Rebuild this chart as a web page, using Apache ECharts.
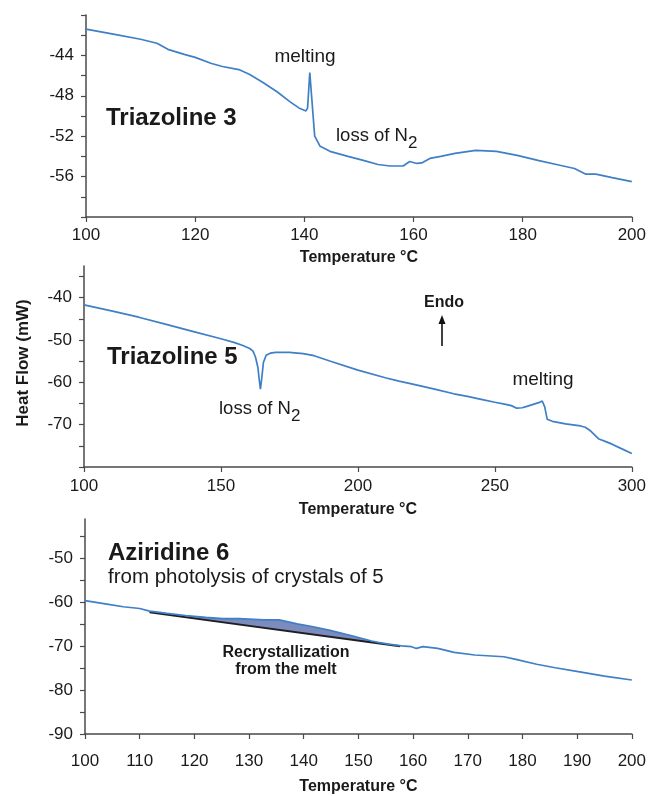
<!DOCTYPE html>
<html>
<head>
<meta charset="utf-8">
<script src="https://cdn.jsdelivr.net/npm/echarts@6/dist/echarts.min.js"></script>
<style>html,body{margin:0;padding:0;background:#fff}#c{width:649px;height:796px}</style>
</head>
<body>
<div id="c"></div>
<script>
// ---- Panel 1: Triazoline 3 ----
const t3X = [100,105,110,113,115,118,120,123,125,128,130,132.5,135,137.4,139,140.3,140.6,141.0,141.4,141.9,142.9,144.7,148,150.8,153.5,155.7,158.1,159.3,160.6,161.5,163,165,167.6,171.4,175.2,179,182.8,186.6,189.5,191.5,193.4,196.4,200];
const t3Y = [-41.4,-41.9,-42.4,-42.8,-43.4,-43.9,-44.2,-44.8,-45.1,-45.4,-45.9,-46.7,-47.6,-48.6,-49.2,-49.5,-49.2,-45.7,-48.5,-52.0,-53.0,-53.5,-54.0,-54.4,-54.8,-54.95,-54.95,-54.5,-54.7,-54.65,-54.2,-54.0,-53.7,-53.4,-53.5,-53.9,-54.4,-54.85,-55.2,-55.75,-55.75,-56.1,-56.5];
const t3XTicks = [100,120,140,160,180,200];
const t3YTicks = [-60,-58,-56,-54,-52,-50,-48,-46,-44,-42,-40];
const t3YLabels = [-56,-52,-48,-44];

// ---- Panel 2: Triazoline 5 ----
const t5X = [100,110,120,130,140,150,155,158,160.5,161.7,162.6,163.5,164.0,164.4,164.9,165.5,166.5,168,170,175,180,184,190,200,210,215,220,228,235,240,245,250,254,256,258,260,262,264,266,267.3,268.2,269.1,271,275.8,281.3,283,285,288,290.5,292.8,296,300];
const t5Y = [-41.7,-43.1,-44.6,-46.3,-48.0,-49.7,-50.6,-51.3,-52.0,-52.6,-54.0,-56.5,-59.5,-61.6,-59.0,-55.3,-53.6,-53.1,-52.9,-52.9,-53.2,-53.7,-55.0,-57.1,-58.9,-59.7,-60.4,-61.6,-62.7,-63.3,-64.0,-64.7,-65.2,-65.5,-66.1,-66.0,-65.6,-65.2,-64.8,-64.4,-65.8,-68.7,-69.2,-69.8,-70.3,-70.6,-71.5,-73.4,-74.0,-74.6,-75.6,-76.8];
const t5XTicks = [100,150,200,250,300];
const t5YTicks = [-80,-75,-70,-65,-60,-55,-50,-45,-40,-35];
const t5YLabels = [-70,-60,-50,-40];

// ---- Panel 3: Aziridine 6 ----
const a6X = [100,104,107,110,111.8,115,118.4,122.1,125.2,128.2,132.7,135.5,138.8,141.5,144.8,148.8,152.4,153.6,155.5,157.9,159.7,160.6,161.8,164.5,167.5,171.3,176.6,178.8,182.6,186,190.2,195,200];
const a6Y = [-59.6,-60.4,-61.0,-61.4,-62.0,-62.5,-63.0,-63.4,-63.7,-63.7,-64.0,-64.0,-64.9,-65.5,-66.4,-67.6,-68.8,-69.1,-69.5,-69.9,-70.1,-70.5,-70.1,-70.5,-71.4,-72.0,-72.4,-73.0,-74.1,-74.9,-75.8,-76.8,-77.7];
const baseX = [111.8,157.6];
const baseY = [-62.3,-70.0];
const a6XTicks = [100,110,120,130,140,150,160,170,180,190,200];
const a6YTicks = [-90,-85,-80,-75,-70,-65,-60,-55,-50,-45];
const a6YLabels = [-90,-80,-70,-60,-50];

const zip = (xs, ys) => xs.map((x, i) => [x, ys[i]]);
const LINE = '#3f7fc6';
const AX = '#4a4a4a';
const TXT = '#1a1a1a';
const LF = "'Liberation Sans', Arial, sans-serif";
const SF = "'Liberation Sans', Arial, sans-serif";

function xAx(idx, min, max, interval, gap, lmargin, ticks) {
  return {
    type: 'value', gridIndex: idx, min: min, max: max, interval: interval,
    name: 'Temperature °C', nameLocation: 'middle', nameGap: gap,
    nameTextStyle: {fontFamily: SF, fontWeight: 'bold', fontSize: 16, color: TXT},
    axisLine: {lineStyle: {color: AX, width: 1.5}},
    axisTick: {show: true, length: 5, customValues: ticks, lineStyle: {color: AX, width: 1.2}},
    axisLabel: {fontFamily: LF, fontSize: 17, color: TXT, margin: lmargin, customValues: ticks},
    splitLine: {show: false}
  };
}
function yAx(idx, min, max, ticks, labels) {
  return {
    type: 'value', gridIndex: idx, min: min, max: max,
    axisLine: {show: true, lineStyle: {color: AX, width: 1.5}},
    axisTick: {show: true, length: 5, customValues: ticks, lineStyle: {color: AX, width: 1.2}},
    axisLabel: {fontFamily: LF, fontSize: 17, color: TXT, margin: 12, customValues: labels},
    splitLine: {show: false}
  };
}
function lineSeries(idx, data) {
  return {type: 'line', xAxisIndex: idx, yAxisIndex: idx, data: data, showSymbol: false,
    lineStyle: {color: LINE, width: 1.7}, silent: true, animation: false, z: 3};
}

function txt(x, y, s, size, bold, align, extra) {
  return Object.assign({type: 'text', x: x, y: y, silent: true,
    style: {text: s, fontFamily: SF, fontSize: size, fontWeight: bold ? 'bold' : 'normal',
      fill: TXT, align: align || 'left', verticalAlign: 'middle'}}, extra || {});
}

const chart = echarts.init(document.getElementById('c'), null, {renderer: 'canvas'});
chart.setOption({
  animation: false,
  backgroundColor: '#fff',
  grid: [
    {left: 86, right: 16, top: 15, height: 202},
    {left: 84, right: 16, top: 266, height: 201},
    {left: 85, right: 14, top: 519, height: 215}
  ],
  xAxis: [
    xAx(0, 100, 200, 20, 33, 10, t3XTicks),
    xAx(1, 100, 300, 50, 35, 11, t5XTicks),
    xAx(2, 100, 200, 10, 45, 19, a6XTicks)
  ],
  yAxis: [
    yAx(0, -60, -40, t3YTicks, t3YLabels),
    yAx(1, -80, -32.5, t5YTicks, t5YLabels),
    yAx(2, -90, -41, a6YTicks, a6YLabels)
  ],
  series: [
    lineSeries(0, zip(t3X, t3Y)),
    lineSeries(1, zip(t5X, t5Y)),
    {
      type: 'custom', xAxisIndex: 2, yAxisIndex: 2, silent: true, z: 2,
      data: [[baseX[0], baseY[0]]],
      renderItem: function (params, api) {
        const pts = [];
        for (let i = 0; i < a6X.length; i++) {
          if (a6X[i] >= baseX[0] && a6X[i] <= baseX[1]) pts.push(api.coord([a6X[i], a6Y[i]]));
        }
        pts.push(api.coord([baseX[1], baseY[1]]));
        pts.push(api.coord([baseX[0], baseY[0]]));
        return {type: 'polygon', shape: {points: pts},
          style: {fill: '#7c8bbd', stroke: null}};
      }
    },
    {type: 'line', xAxisIndex: 2, yAxisIndex: 2, data: zip(baseX, baseY), showSymbol: false,
      lineStyle: {color: '#1e1e1e', width: 1.8}, silent: true, z: 2},
    lineSeries(2, zip(a6X, a6Y))
  ],
  graphic: [
    txt(305, 57, 'melting', 19, false, 'center'),
    txt(106, 118, 'Triazoline 3', 24, true),
    txt(336, 136, 'loss of N', 18.5, false),
    txt(408, 143, '2', 17, false),

    txt(107, 357, 'Triazoline 5', 24, true),
    txt(219, 409, 'loss of N', 18.5, false),
    txt(291, 416, '2', 17, false),
    txt(444, 303, 'Endo', 16, true, 'center'),
    {type: 'line', silent: true, shape: {x1: 442, y1: 346, x2: 442, y2: 322}, style: {stroke: '#111', lineWidth: 1.6}},
    {type: 'polygon', silent: true, shape: {points: [[442, 315], [438.5, 324], [445.5, 324]]}, style: {fill: '#111'}},
    txt(543, 380, 'melting', 19, false, 'center'),

    txt(108, 553, 'Aziridine 6', 24, true),
    txt(108, 577, 'from photolysis of crystals of 5', 20.5, false),
    txt(286, 653, 'Recrystallization', 16, true, 'center'),
    txt(286, 670, 'from the melt', 16, true, 'center'),

    txt(23, 363, 'Heat Flow (mW)', 17, true, 'center', {rotation: Math.PI / 2})
  ]
});
</script>
</body>
</html>
